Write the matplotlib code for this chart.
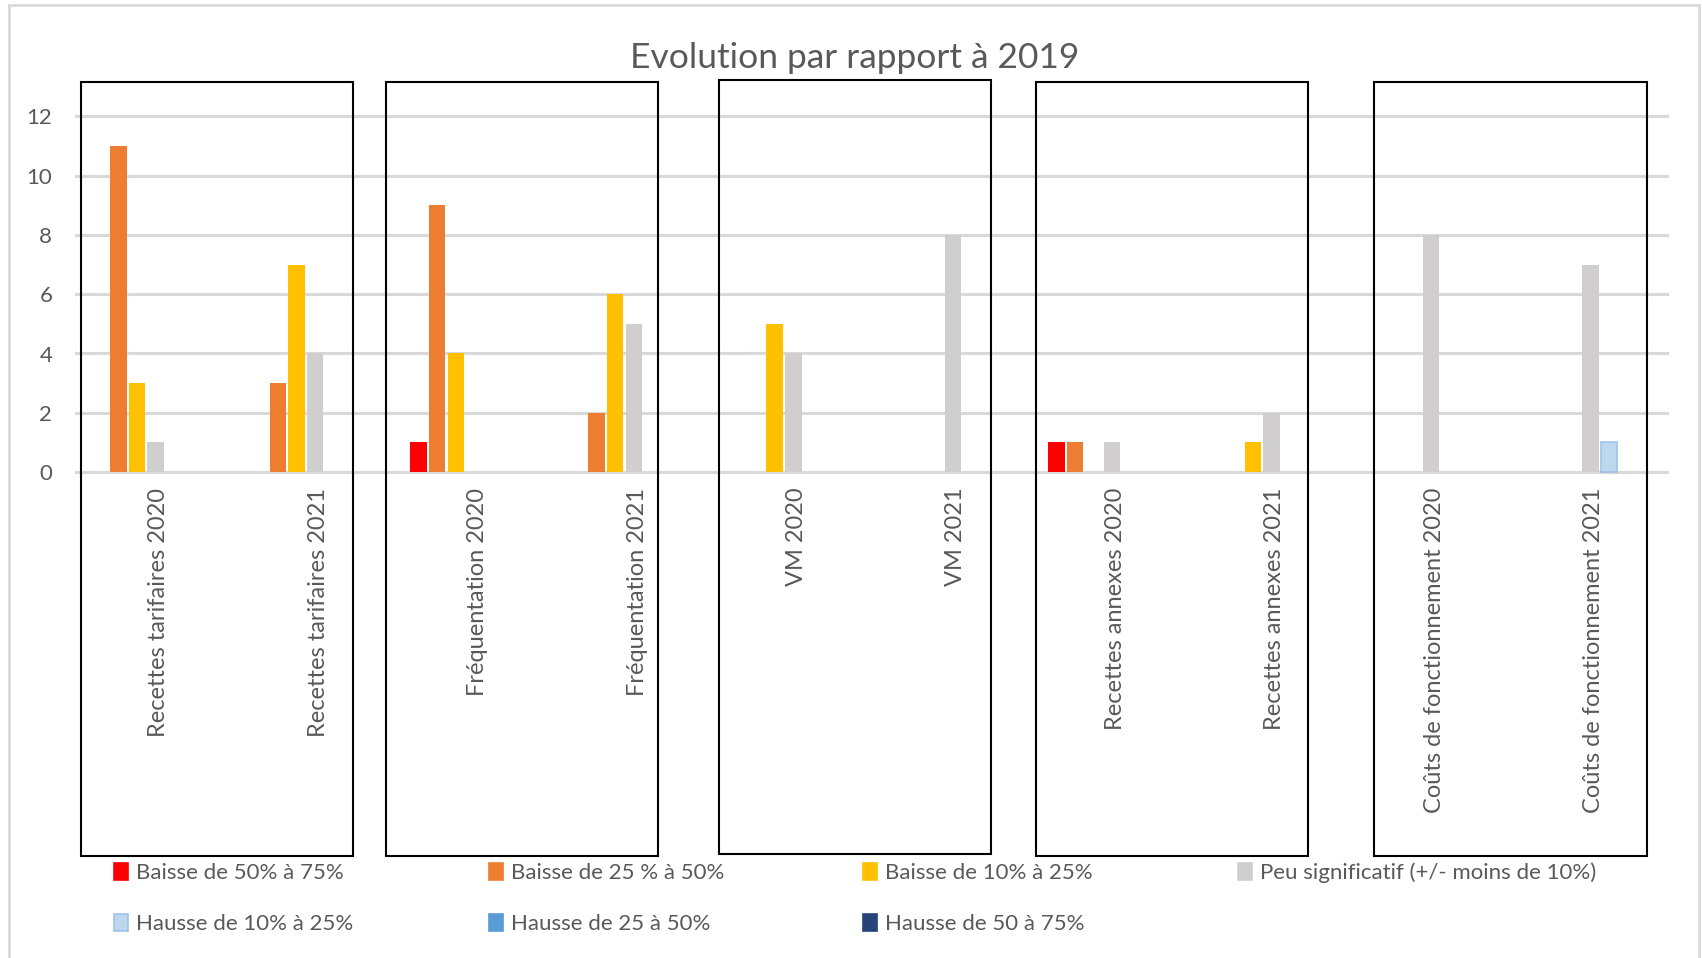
import matplotlib
matplotlib.use("Agg")
import matplotlib.pyplot as plt
from matplotlib.patches import Rectangle, Patch
from matplotlib.transforms import ScaledTranslation
import numpy as np

plt.rcParams['font.family'] = ['Lato', 'DejaVu Sans']

# ---------------- data ----------------
categories = [
    "Recettes tarifaires 2020", "Recettes tarifaires 2021",
    "Fréquentation 2020", "Fréquentation 2021",
    "VM 2020", "VM 2021",
    "Recettes annexes 2020", "Recettes annexes 2021",
    "Coûts de fonctionnement 2020", "Coûts de fonctionnement 2021",
]
series_labels = [
    "Baisse de 50% à 75%", "Baisse de 25 % à 50%", "Baisse de 10% à 25%",
    "Peu significatif (+/- moins de 10%)", "Hausse de 10% à 25%",
    "Hausse de 25 à 50%", "Hausse de 50 à 75%",
]
baisse_50_75 = [0, 0, 1, 0, 0, 0, 1, 0, 0, 0]
baisse_25_50 = [11, 3, 9, 2, 0, 0, 1, 0, 0, 0]
baisse_10_25 = [3, 7, 4, 6, 5, 0, 0, 1, 0, 0]
peu_signif = [1, 4, 0, 5, 4, 8, 1, 2, 8, 7]
hausse_10_25 = [0, 0, 0, 0, 0, 0, 0, 0, 0, 1]
hausse_25_50 = [0, 0, 0, 0, 0, 0, 0, 0, 0, 0]
hausse_50_75 = [0, 0, 0, 0, 0, 0, 0, 0, 0, 0]
yticks = [0, 2, 4, 6, 8, 10, 12]
title = "Evolution par rapport à 2019"

series = [baisse_50_75, baisse_25_50, baisse_10_25, peu_signif,
          hausse_10_25, hausse_25_50, hausse_50_75]
colors = ['#FF0000', '#ED7D31', '#FFC000', '#D0CECE', '#BDD7EE', '#5B9BD5', '#264478']
edges = ['#FF0000', '#ED7D31', '#FFC000', '#D0CECE', '#9DC3E6', '#5B9BD5', '#264478']

# ---------------- layout ----------------
W, H = 1702, 958
def fx(px): return px / W
def fy(py): return 1 - py / H

fig = plt.figure(figsize=(W / 100, H / 100), dpi=100)
fig.patch.set_facecolor('white')

y0_px, y12_px = 472.0, 116.5
ppu = (y0_px - y12_px) / 12.0
ylo, yhi = -0.15, 12.15
ax_bottom = y0_px - ylo * ppu
ax_top = y0_px - yhi * ppu
ax = fig.add_axes([fx(74.5), fy(ax_bottom), fx(1669) - fx(74.5), fy(ax_top) - fy(ax_bottom)])
ax.set_xlim(-0.5, len(categories) - 0.5)
ax.set_ylim(ylo, yhi)

x = np.arange(len(categories))
pitch = 0.1166
width = 0.103
for i, vals in enumerate(series):
    ecs = [edges[i] if v != 0 else 'none' for v in vals]
    ax.bar(x + (i - 3) * pitch + 0.008, vals, width=width, color=colors[i],
           edgecolor=ecs, linewidth=1.2 if i == 4 else 0.0, zorder=3)

ax.set_yticks(yticks)
ax.set_yticklabels([str(t) for t in yticks])
ax.yaxis.grid(True, color='#D9D9D9', linewidth=2.2)
ax.set_axisbelow(True)
for s in ax.spines.values():
    s.set_visible(False)
ax.tick_params(axis='y', length=0, pad=16, labelsize=16, labelcolor='#595959')
ax.set_xticks(x)
ax.set_xticklabels(categories, rotation=90, va='top', ha='center', fontsize=17, color='#595959')
ax.tick_params(axis='x', length=0, pad=8)
shift = ScaledTranslation(4.5 / 100, 0, fig.dpi_scale_trans)
for lab in ax.get_xticklabels():
    lab.set_transform(lab.get_transform() + shift)

# title
fig.text(fx(855), fy(58), title, ha='center', va='center', fontsize=25.5, color='#595959')

# decorative boxes around category pairs (left, right, top, bottom in px)
boxes = [(81, 353, 82, 856), (386, 658, 82, 856), (719, 991, 80, 854),
         (1036, 1308, 82, 856), (1374, 1647, 82, 856)]
for (l, r, t, b) in boxes:
    fig.add_artist(Rectangle((fx(l), fy(b)), fx(r) - fx(l), fy(t) - fy(b),
                             transform=fig.transFigure, fill=False,
                             edgecolor='black', linewidth=1.5, zorder=5))

# outer chart border
fig.add_artist(Rectangle((fx(9), fy(962)), fx(1699) - fx(9), fy(5) - fy(962),
                         transform=fig.transFigure, fill=False,
                         edgecolor='#D9D9D9', linewidth=2, zorder=1))

# legend
leg_x = [114, 488.5, 863, 1237.5]
leg_y = [873, 924]
for i, lab in enumerate(series_labels):
    col, row = i % 4, i // 4
    h = Patch(facecolor=colors[i], edgecolor=edges[i], linewidth=1.2)
    fig.legend([h], [lab], loc='center left',
               bbox_to_anchor=(fx(leg_x[col]), fy(leg_y[row])),
               frameon=False, borderpad=0, borderaxespad=0,
               handlelength=0.65, handleheight=0.8, handletextpad=0.35,
               fontsize=16, labelcolor='#595959')

fig.savefig("out.png", dpi=100, facecolor='white')
